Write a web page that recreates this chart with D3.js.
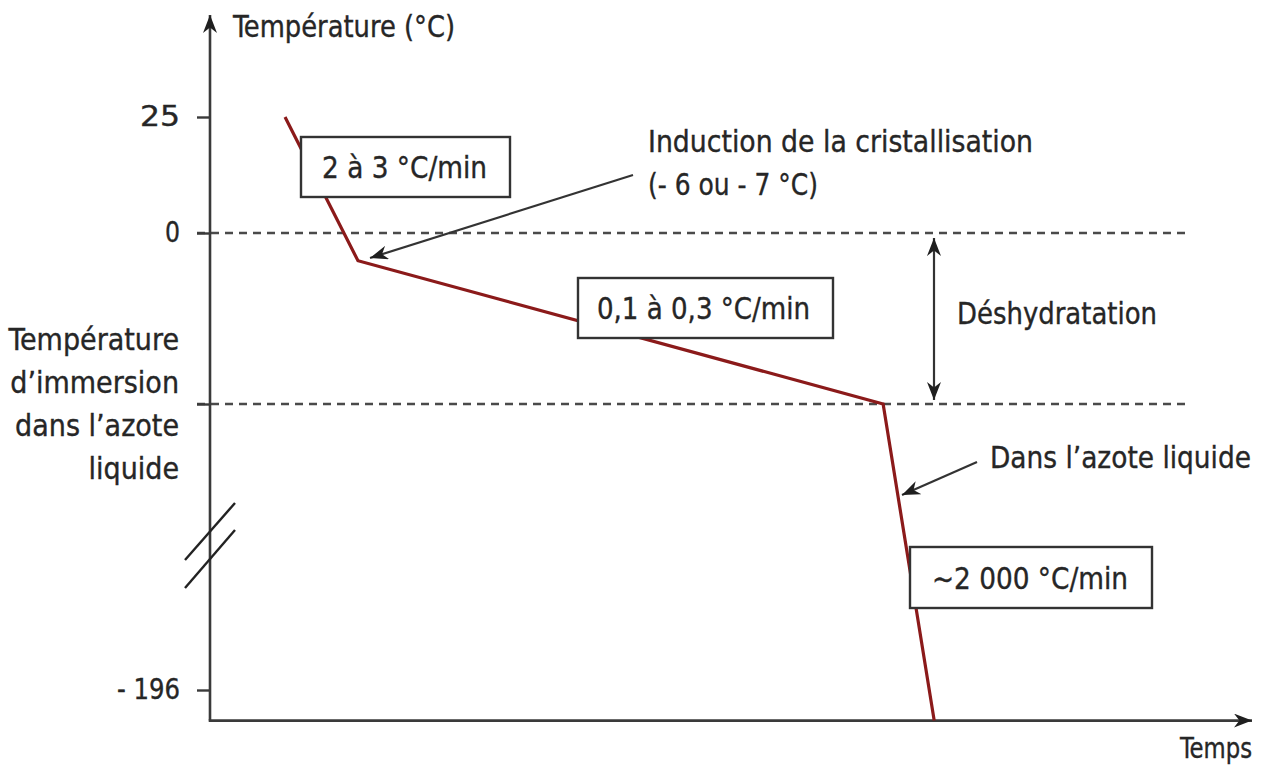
<!DOCTYPE html>
<html lang="fr">
<head>
<meta charset="utf-8">
<script src="https://cdn.jsdelivr.net/npm/d3@7"></script>
<style>
  html, body { margin: 0; padding: 0; background: #fff; }
  svg text { font-family: "Liberation Sans Narrow", "DejaVu Sans Condensed", "Roboto", sans-serif; fill: #262626; stroke: #262626; stroke-width: 0.35; }
</style>
</head>
<body>
<svg id="chart" width="1268" height="767"></svg>
<script>
// Cooling profile: time (arbitrary units) and temperature (°C)
const times = [7.2, 14.2, 64.6, 69.5];
const temps = [25, -6, -37, -213];

// Temperature axis: broken scale, key levels
const tickTemps = [25, 0, -37, -196];
const tickLabels = ["25", "0", "", "- 196"];
const immersionLabel = ["Température", "d’immersion", "dans l’azote", "liquide"];

// Axis extents (°C and time units)
const tempTop = 47, tempFloor = -213;
const timeStart = 0, timeEnd = 100, dashEnd = 94;

const svg = d3.select("#chart");
const ink = "#3a3a3a";
const curveColor = "#8b1a1a";

const x = d3.scaleLinear().domain([timeStart, timeEnd]).range([210, 1252]);
const y = d3.scaleLinear().domain([25, 0, -37, -196]).range([117, 233, 404, 690]);

// Arrowhead markers
const defs = svg.append("defs");
function marker(id, len, wid) {
  defs.append("marker")
    .attr("id", id)
    .attr("viewBox", `0 ${-wid} ${len} ${wid * 2}`)
    .attr("refX", len).attr("refY", 0)
    .attr("markerUnits", "userSpaceOnUse")
    .attr("markerWidth", len).attr("markerHeight", wid * 2)
    .attr("orient", "auto-start-reverse")
    .append("path")
    .attr("d", `M0,${-wid} L${len},0 L0,${wid} L${len * 0.3},0 Z`)
    .attr("fill", "#1f1f1f");
}
marker("axisHead", 18, 7);
marker("noteHead", 18, 7);

// Fit text to a given width
function fit(sel, w) {
  sel.attr("textLength", w).attr("lengthAdjust", "spacingAndGlyphs");
  return sel;
}

// Dashed reference levels
[0, -37].forEach(t => {
  svg.append("line")
    .attr("x1", x(timeStart) - 13).attr("x2", x(dashEnd))
    .attr("y1", y(t)).attr("y2", y(t))
    .attr("stroke", "#4a4a4a").attr("stroke-width", 2.4)
    .attr("stroke-dasharray", "8,6");
});

// Y axis ticks and labels
const tickWidths = [40, 15, 0, 63];
const yAxis = d3.axisLeft(y)
  .tickValues(tickTemps)
  .tickSize(13)
  .tickPadding(17)
  .tickFormat((d, i) => tickLabels[i]);
const gy = svg.append("g").attr("transform", `translate(${x(timeStart)},0)`).call(yAxis);
gy.select(".domain").remove();
gy.selectAll(".tick line").attr("stroke", ink).attr("stroke-width", 2.4);
gy.selectAll(".tick text")
  .attr("font-size", 28)
  .attr("font-family", null)
  .attr("fill", null)
  .each(function (d, i) { if (tickWidths[i]) fit(d3.select(this), tickWidths[i]); });

// Axis lines with arrows
svg.append("line")
  .attr("x1", x(timeStart)).attr("x2", x(timeStart))
  .attr("y1", y(tempFloor)).attr("y2", y(tempTop))
  .attr("stroke", ink).attr("stroke-width", 2.6)
  .attr("marker-end", "url(#axisHead)");
svg.append("line")
  .attr("x1", x(timeStart) - 1.3).attr("x2", x(timeEnd))
  .attr("y1", y(tempFloor)).attr("y2", y(tempFloor))
  .attr("stroke", ink).attr("stroke-width", 2.6)
  .attr("marker-end", "url(#axisHead)");

// Axis break
[[185, 560, 235, 503], [185, 588, 235, 530]].forEach(([x1, y1, x2, y2]) => {
  svg.append("line")
    .attr("x1", x1).attr("y1", y1).attr("x2", x2).attr("y2", y2)
    .attr("stroke", "#222").attr("stroke-width", 2.4);
});

// Cooling curve
const line = d3.line().x((d, i) => x(times[i])).y(d => y(d));
svg.append("path")
  .datum(temps)
  .attr("d", line)
  .attr("fill", "none")
  .attr("stroke", curveColor)
  .attr("stroke-width", 3.2)
  .attr("stroke-linejoin", "miter");

// Rate boxes
const boxes = [
  { text: "2 à 3 °C/min", x0: 301, y0: 137, x1: 510, y1: 197, tx: 322, tw: 165, by: 178 },
  { text: "0,1 à 0,3 °C/min", x0: 578, y0: 278, x1: 833, y1: 338, tx: 597, tw: 213, by: 319 },
  { text: "~2 000 °C/min", x0: 910, y0: 547, x1: 1152, y1: 608, tx: 932, tw: 196, by: 589 }
];
boxes.forEach(b => {
  svg.append("rect")
    .attr("x", b.x0).attr("y", b.y0)
    .attr("width", b.x1 - b.x0).attr("height", b.y1 - b.y0)
    .attr("fill", "#fff").attr("stroke", "#333").attr("stroke-width", 2.4);
  fit(svg.append("text").attr("x", b.tx).attr("y", b.by).attr("font-size", 30).text(b.text), b.tw);
});

// Annotations
fit(svg.append("text").attr("x", 233).attr("y", 37).attr("font-size", 31).text("Température (°C)"), 222);

const imm = svg.append("text").attr("font-size", 30).attr("text-anchor", "end");
immersionLabel.forEach((s, i) => {
  imm.append("tspan").attr("x", 179).attr("y", 350 + i * 43).text(s);
});

fit(svg.append("text").attr("x", 648).attr("y", 152).attr("font-size", 31).text("Induction de la cristallisation"), 385);
fit(svg.append("text").attr("x", 648).attr("y", 195).attr("font-size", 31).text("(- 6 ou - 7 °C)"), 170);
svg.append("line")
  .attr("x1", 633).attr("y1", 175).attr("x2", 370).attr("y2", 258)
  .attr("stroke", "#333").attr("stroke-width", 2.2)
  .attr("marker-end", "url(#noteHead)");

fit(svg.append("text").attr("x", 957).attr("y", 324).attr("font-size", 31).text("Déshydratation"), 200);
svg.append("line")
  .attr("x1", 934).attr("x2", 934)
  .attr("y1", y(0) + 5).attr("y2", y(-37) - 4)
  .attr("stroke", "#333").attr("stroke-width", 2.2)
  .attr("marker-start", "url(#noteHead)")
  .attr("marker-end", "url(#noteHead)");

fit(svg.append("text").attr("x", 990).attr("y", 468).attr("font-size", 31).text("Dans l’azote liquide"), 261);
svg.append("line")
  .attr("x1", 977).attr("y1", 462).attr("x2", 902).attr("y2", 495)
  .attr("stroke", "#333").attr("stroke-width", 2.2)
  .attr("marker-end", "url(#noteHead)");

fit(svg.append("text").attr("x", 1180).attr("y", 758).attr("font-size", 28).text("Temps"), 72);
</script>
</body>
</html>
